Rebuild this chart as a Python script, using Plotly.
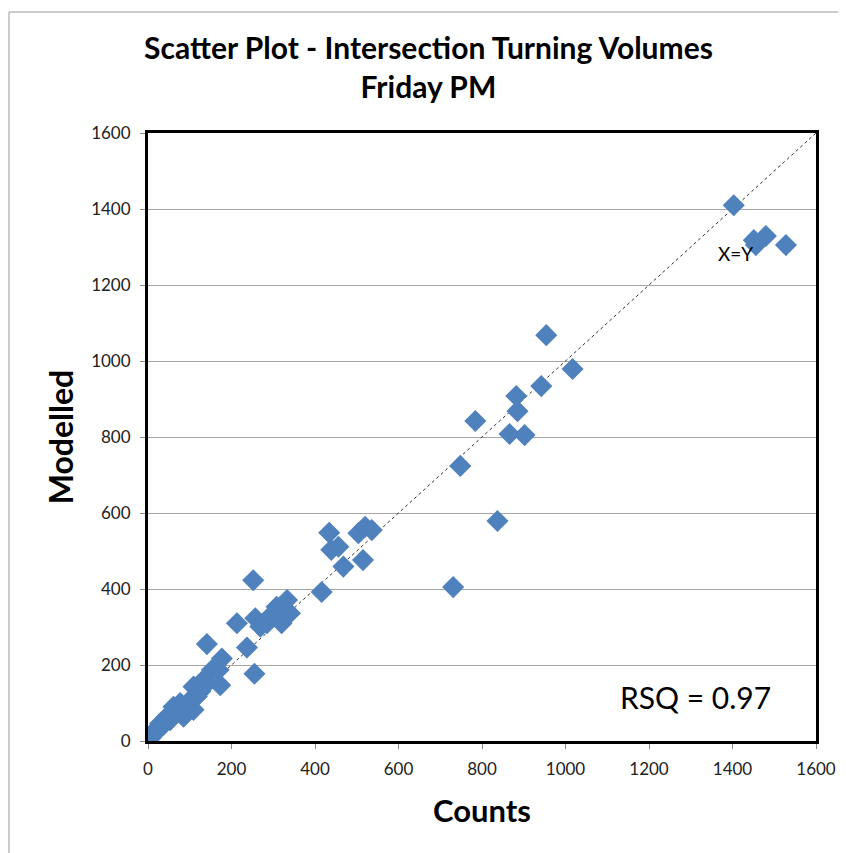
import plotly.graph_objects as go

counts = [1403, 1451, 1480, 1456, 1528, 954, 1017, 942, 882, 784, 885, 866, 902, 748, 837, 731,
          434, 439, 456, 504, 520, 536, 515, 468, 416, 252, 213, 141, 255, 237,
          257, 285, 308, 333, 340, 320, 296, 269, 329,
          177, 169, 173, 153, 137, 109, 101, 77, 61, 109, 85, 117, 45, 29, 13, 22, 53, 91, 125, 140, 70, 35, 8]
modelled = [1410, 1318, 1329, 1305, 1305, 1068, 979, 934, 908, 842, 868, 808, 805, 724, 579, 405,
            548, 503, 511, 547, 564, 555, 476, 459, 392, 423, 310, 255, 177, 246,
            323, 310, 353, 371, 336, 310, 332, 301, 345,
            217, 187, 147, 187, 165, 143, 108, 100, 90, 82, 64, 117, 64, 46, 24, 28, 55, 76, 130, 150, 75, 40, 10]

line_xy = [0, 1600]
x_ticks = [0, 200, 400, 600, 800, 1000, 1200, 1400, 1600]

FONT = "Lato, Carlito, sans-serif"
L, R, T, B = 140, 38, 125, 120
PW, PH = 846 - L - R, 853 - T - B

fig = go.Figure()
fig.add_trace(go.Scatter(x=line_xy, y=line_xy, mode="lines",
                         line=dict(color="#303030", width=1, dash="dot"),
                         hoverinfo="skip", showlegend=False))
fig.add_trace(go.Scatter(x=counts, y=modelled, mode="markers",
                         marker=dict(symbol="diamond", size=17, color="#4F81BD",
                                     line=dict(width=0)),
                         showlegend=False))

fig.add_annotation(x=1408, y=1282, text="X=Y", showarrow=False,
                   font=dict(family=FONT, size=19, color="#000"))
fig.add_annotation(x=1312, y=116, text="RSQ = 0.97", showarrow=False,
                   font=dict(family=FONT, size=30, color="#000"))

axis_common = dict(range=[0, 1600], tickvals=x_ticks, ticks="outside", ticklen=5,
                   tickcolor="#888", tickfont=dict(family=FONT, size=17, color="#222"),
                   showline=True, linecolor="black", linewidth=3, mirror=True, zeroline=False,
                   fixedrange=True)

fig.update_layout(
    width=846, height=853,
    margin=dict(l=L, r=R, t=T, b=B),
    paper_bgcolor="white", plot_bgcolor="white",
    title=dict(text="<b>Scatter Plot - Intersection Turning Volumes<br>Friday PM</b>",
               x=0.497, xanchor="center", y=0.9403, yanchor="top",
               font=dict(family=FONT, size=30, color="#000")),
    xaxis=dict(**axis_common, showgrid=False, ticklabelstandoff=6,
               title=dict(text="<b>Counts</b>", standoff=22,
                          font=dict(family=FONT, size=31, color="#000"))),
    yaxis=dict(**axis_common, showgrid=True, gridcolor="#A6A6A6", gridwidth=1,
               ticklabelstandoff=6,
               title=dict(text="<b>Modelled</b>", standoff=8,
                          font=dict(family=FONT, size=32, color="#000"))),
    shapes=[dict(type="rect", xref="paper", yref="paper",
                 x0=-(L - 1) / PW, x1=1 + (R - 5) / PW, y0=-(B - 6) / PH, y1=1 + (T - 4) / PH,
                 line=dict(color="#999", width=1))],
)

fig.write_html("out.html")
